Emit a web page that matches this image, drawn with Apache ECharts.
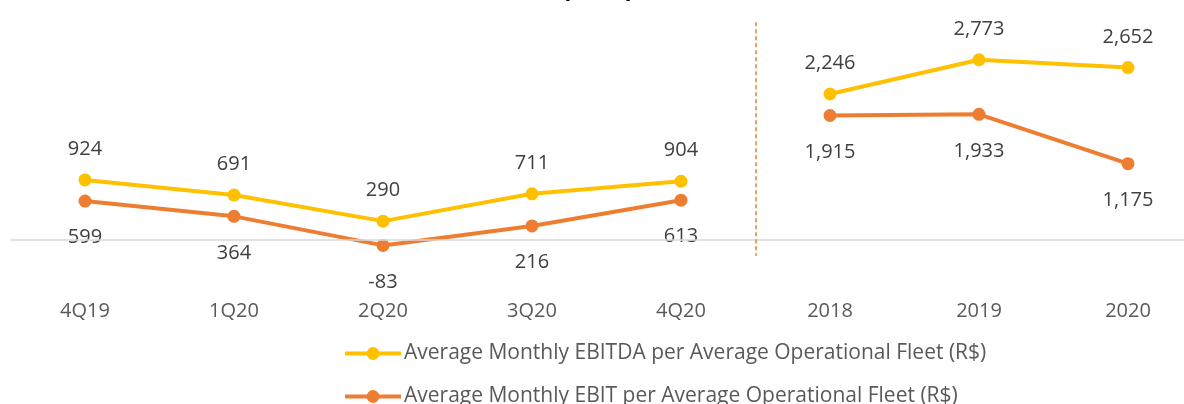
<!DOCTYPE html>
<html>
<head>
<meta charset="utf-8">
<script src="https://cdn.jsdelivr.net/npm/echarts@6/dist/echarts.min.js"></script>
<style>
  html, body { margin: 0; padding: 0; background: #fff; }
  #chart { width: 1184px; height: 404px; }
</style>
</head>
<body>
<div id="chart"></div>
<script>
// periods: five quarters then three full years
const categories = ['4Q19', '1Q20', '2Q20', '3Q20', '4Q20', '2018', '2019', '2020'];

const ebitdaQuarter = [924, 691, 290, 711, 904, '-', '-', '-'];
const ebitdaYear = ['-', '-', '-', '-', '-', 2246, 2773, 2652];
const ebitQuarter = [599, 364, -83, 216, 613, '-', '-', '-'];
const ebitYear = ['-', '-', '-', '-', '-', 1915, 1933, 1175];

const ebitdaName = 'Average Monthly EBITDA per Average Operational Fleet (R$)';
const ebitName = 'Average Monthly EBIT per Average Operational Fleet (R$)';

const YELLOW = '#FFC000';
const ORANGE = '#ED7D31';
const FONT = 'Open Sans';

const chart = echarts.init(document.getElementById('chart'));

function lineSeries(name, data, color, below) {
  return {
    name: name,
    type: 'line',
    data: data,
    symbol: 'circle',
    symbolSize: 13,
    lineStyle: { color: color, width: 4 },
    itemStyle: { color: color },
    label: {
      show: true,
      position: below ? 'bottom' : 'top',
      distance: below ? 20 : 14,
      color: '#404040',
      fontFamily: FONT,
      fontSize: 20,
      formatter: p => p.value.toLocaleString('en-US')
    },
    z: below ? 3 : 4
  };
}

// one legend per item so they stack without wrapping
function legendFor(name, top) {
  return {
    data: [name],
    left: 338,
    top: top,
    itemWidth: 56,
    itemHeight: 16,
    itemGap: 0,
    lineStyle: { width: 4 },
    textStyle: { fontFamily: FONT, fontSize: 21, color: '#595959', padding: [0, 0, 0, -2] }
  };
}

const option = {
  animation: false,
  title: {
    text: 'EBITDA and EBIT per Operational Fleet (R$)',
    left: 375,
    top: -26,
    textStyle: { fontFamily: FONT, fontSize: 22, fontWeight: 'bold', color: '#000' }
  },
  legend: [legendFor(ebitdaName, 338), legendFor(ebitName, 381)],
  grid: { left: 10.5, right: -18.5, top: 19, bottom: 112, outerBoundsMode: 'none' },
  xAxis: [
    {
      type: 'category',
      data: categories,
      axisLine: { show: false },
      axisTick: { show: false },
      axisLabel: { color: '#595959', fontFamily: FONT, fontSize: 20, margin: 9 }
    },
    { type: 'value', min: 0, max: 8, show: false }
  ],
  yAxis: {
    type: 'value',
    min: -800,
    max: 3400,
    show: false,
    splitLine: { show: false }
  },
  series: [
    lineSeries(ebitdaName, ebitdaQuarter, YELLOW, false),
    lineSeries(ebitdaName, ebitdaYear, YELLOW, false),
    lineSeries(ebitName, ebitQuarter, ORANGE, true),
    lineSeries(ebitName, ebitYear, ORANGE, true),
    {
      // zero line and the quarter/year divider
      type: 'line',
      xAxisIndex: 1,
      data: [],
      z: 1,
      markLine: {
        silent: true,
        symbol: 'none',
        label: { show: false },
        data: [
          { yAxis: 0, lineStyle: { color: '#D9D9D9', width: 1.5, type: 'solid' } },
          [
            { coord: [5, 3350], lineStyle: { color: ORANGE, width: 1.5, type: [4, 3] } },
            { coord: [5, -245] }
          ]
        ]
      }
    }
  ]
};

chart.setOption(option);
</script>
</body>
</html>
